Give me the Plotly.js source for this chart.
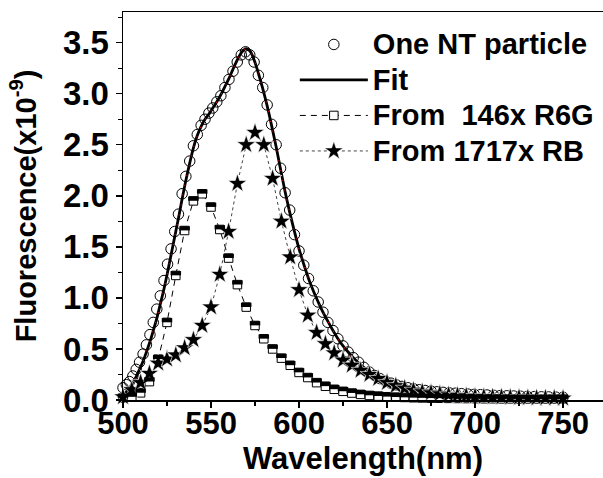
<!DOCTYPE html>
<html>
<head>
<meta charset="utf-8">
<script src="https://cdn.plot.ly/plotly-3.0.1.min.js"></script>
<style>html,body{margin:0;padding:0;background:#fff;}#chart{width:603px;height:478px;}</style>
</head>
<body>
<div id="chart"></div>
<script>
// One NT particle (open circles) and the fit share the same wavelength grid
const ntX = [500.0, 501.9, 503.7, 505.6, 507.5, 509.4, 511.4, 513.3, 515.3, 517.2, 519.2, 521.2, 523.3, 525.3, 527.3, 529.4, 531.5, 533.6, 535.7, 537.9,
  540.0, 542.2, 544.4, 546.6, 548.8, 551.0, 553.3, 555.6, 557.9, 560.2, 562.5, 564.9, 567.2, 569.6, 572.0, 574.5, 576.9, 579.4, 581.9, 584.4,
  587.0, 589.5, 592.1, 594.7, 597.4, 600.0, 602.7, 605.4, 608.1, 610.9, 613.6, 616.4, 619.3, 622.1, 625.0, 627.9, 630.8, 633.8, 636.8, 639.8,
  642.9, 645.9, 649.0, 652.2, 655.3, 658.5, 661.8, 665.0, 668.3, 671.6, 675.0, 678.4, 681.8, 685.3, 688.8, 692.3, 695.9, 699.5, 703.1, 706.8,
  710.5, 714.3, 718.1, 721.9, 725.8, 729.7, 733.7, 737.7, 741.8, 745.9, 750.0];
const ntY = [0.12, 0.15, 0.18, 0.235, 0.30, 0.37, 0.45, 0.54, 0.64, 0.76, 0.89, 1.02, 1.17, 1.33, 1.48, 1.65, 1.82, 2.02, 2.19, 2.34,
  2.49, 2.60, 2.69, 2.75, 2.81, 2.86, 2.92, 2.98, 3.06, 3.14, 3.22, 3.31, 3.38, 3.41, 3.38, 3.31, 3.18, 3.06, 2.89, 2.70,
  2.50, 2.27, 2.03, 1.86, 1.62, 1.46, 1.32, 1.19, 1.07, 0.96, 0.86, 0.76, 0.68, 0.60, 0.53, 0.47, 0.415, 0.37, 0.32, 0.275,
  0.24, 0.21, 0.185, 0.165, 0.148, 0.133, 0.12, 0.11, 0.10, 0.093, 0.087, 0.08, 0.075, 0.07, 0.066, 0.062, 0.058, 0.055, 0.052, 0.049,
  0.046, 0.043, 0.041, 0.039, 0.037, 0.035, 0.033, 0.031, 0.03, 0.028, 0.027];
const fitY = [0.05, 0.08, 0.12, 0.17, 0.23, 0.30, 0.38, 0.47, 0.57, 0.68, 0.80, 0.94, 1.09, 1.25, 1.42, 1.60, 1.78, 1.97, 2.15, 2.32,
  2.47, 2.59, 2.68, 2.75, 2.80, 2.86, 2.92, 2.99, 3.07, 3.15, 3.24, 3.33, 3.40, 3.44, 3.42, 3.33, 3.20, 3.05, 2.88, 2.69,
  2.48, 2.26, 2.04, 1.84, 1.65, 1.48, 1.33, 1.19, 1.07, 0.96, 0.86, 0.77, 0.68, 0.60, 0.53, 0.47, 0.415, 0.365, 0.32, 0.28,
  0.245, 0.215, 0.19, 0.168, 0.149, 0.133, 0.12, 0.108, 0.098, 0.09, 0.083, 0.077, 0.072, 0.067, 0.063, 0.059, 0.056, 0.053, 0.05, 0.047,
  0.045, 0.043, 0.041, 0.039, 0.037, 0.035, 0.033, 0.031, 0.03, 0.028, 0.027];

// From 146x R6G (half-filled squares) and From 1717x RB (stars), 5 nm grid
const dyeX = [500, 505, 510, 515, 520, 525, 530, 535, 540, 545, 550, 555, 560, 565, 570, 575, 580, 585, 590, 595,
  600, 605, 610, 615, 620, 625, 630, 635, 640, 645, 650, 655, 660, 665, 670, 675, 680, 685, 690, 695,
  700, 705, 710, 715, 720, 725, 730, 735, 740, 745, 750];
const r6gY = [0.02, 0.03, 0.07, 0.18, 0.40, 0.76, 1.22, 1.66, 1.95, 2.02, 1.89, 1.67, 1.39, 1.13, 0.91, 0.73, 0.60, 0.50, 0.41, 0.34,
  0.27, 0.22, 0.17, 0.135, 0.105, 0.085, 0.068, 0.055, 0.045, 0.038, 0.032, 0.028, 0.025, 0.022, 0.02, 0.018, 0.017, 0.016, 0.015, 0.014,
  0.013, 0.012, 0.012, 0.011, 0.011, 0.01, 0.01, 0.01, 0.01, 0.01, 0.01];
const rbY = [0.03, 0.10, 0.17, 0.26, 0.36, 0.40, 0.44, 0.51, 0.59, 0.73, 0.91, 1.23, 1.65, 2.12, 2.50, 2.62, 2.50, 2.17, 1.75, 1.40,
  1.08, 0.83, 0.66, 0.55, 0.46, 0.39, 0.34, 0.29, 0.25, 0.21, 0.17, 0.14, 0.115, 0.095, 0.08, 0.07, 0.06, 0.05, 0.045, 0.04,
  0.035, 0.032, 0.03, 0.028, 0.026, 0.024, 0.022, 0.02, 0.02, 0.018, 0.017];

const names = ['One NT particle', 'Fit', 'From  146x R6G', 'From 1717x RB'];
const xTicks = [500, 550, 600, 650, 700, 750];
const yTicks = [0.0, 0.5, 1.0, 1.5, 2.0, 2.5, 3.0, 3.5];
const yTickText = ['0.0', '0.5', '1.0', '1.5', '2.0', '2.5', '3.0', '3.5'];

const Y_RANGE = [0, 3.80];
const PLOT_H = 478 - 12 - 78;
const halfShift = 2.2 * (Y_RANGE[1] - Y_RANGE[0]) / PLOT_H; // ~2px upward, for the black top half of the squares

const F = 'Liberation Sans, Arial, sans-serif';
const big = s => '<span style="font-size:29px">' + s.replace(/ /g, '&nbsp;') + '</span>';

const traces = [
  {x: ntX, y: ntY, name: big(names[0]), mode: 'markers', type: 'scatter', legendgroup: 'a', cliponaxis: false,
   marker: {symbol: 'circle-open', size: 10.5, color: '#000', line: {width: 1, color: '#000'}}},
  {x: ntX, y: fitY, name: big(names[1]), mode: 'lines', type: 'scatter', legendgroup: 'b',
   line: {color: '#000', width: 2.8, shape: 'spline'}},
  {x: ntX, y: fitY, name: names[1], mode: 'lines', type: 'scatter', legendgroup: 'b', showlegend: false,
   line: {color: '#e00000', width: 1.2, dash: '1px,9px', shape: 'spline'}},
  {x: dyeX, y: r6gY, name: big(names[2]), mode: 'lines+markers', type: 'scatter', legendgroup: 'c', cliponaxis: false,
   line: {color: '#000', width: 1, dash: '6px,5px'},
   marker: {symbol: 'square', size: 8.5, color: '#fff', line: {width: 1, color: '#000'}}},
  {x: dyeX, y: r6gY, name: names[2], mode: 'markers', type: 'scatter', legendgroup: 'c', showlegend: false, yaxis: 'y2', cliponaxis: false,
   marker: {symbol: 'line-ew', size: 7.5, color: '#000', line: {width: 4.2, color: '#000'}}},
  {x: dyeX, y: rbY, name: big(names[3]), mode: 'lines+markers', type: 'scatter', legendgroup: 'd', cliponaxis: false,
   line: {color: '#444', width: 1, dash: 'dot'},
   marker: {symbol: 'star', size: 14, color: '#000', line: {width: 0.6, color: '#fff'}}}
];

const layout = {
  width: 603, height: 478,
  margin: {l: 123, r: 0, t: 12, b: 78, pad: 0},
  paper_bgcolor: '#fff', plot_bgcolor: '#fff',
  font: {family: F, color: '#000'},
  showlegend: true,
  legend: {x: 0.358, y: 0.975, xanchor: 'left', yanchor: 'top', bgcolor: 'rgba(0,0,0,0)',
    font: {family: F, size: 25, weight: 'bold', color: '#000'}, itemwidth: 68,
    traceorder: 'grouped', tracegroupgap: 0, itemsizing: 'trace'},
  xaxis: {range: [500, 772.7], tickvals: xTicks, ticktext: xTicks.map(String),
    ticks: 'outside', ticklen: 6, tickwidth: 1.5, tickcolor: '#000', ticklabelstandoff: -11,
    minor: {tickvals: [525, 575, 625, 675, 725], ticks: 'outside', ticklen: 4, tickwidth: 1.2, tickcolor: '#000'},
    showline: true, linewidth: 1.5, linecolor: '#000', mirror: true,
    showgrid: false, zeroline: false,
    tickfont: {family: F, size: 31, weight: 'bold'},
    title: {text: 'Wavelength(nm)', font: {family: F, size: 31, weight: 'bold'}, standoff: 4}},
  yaxis: {range: Y_RANGE, tickvals: yTicks, ticktext: yTickText,
    ticks: 'outside', ticklen: 6, tickwidth: 1.5, tickcolor: '#000',
    minor: {tickvals: [0.25, 0.75, 1.25, 1.75, 2.25, 2.75, 3.25, 3.75], ticks: 'outside', ticklen: 4, tickwidth: 1.2, tickcolor: '#000'},
    showline: true, linewidth: 1.5, linecolor: '#000', mirror: false,
    showgrid: false, zeroline: false,
    tickfont: {family: F, size: 33, weight: 'bold'},
    title: {text: 'Fluorescence(x10<sup>-9</sup>)', font: {family: F, size: 29, weight: 'bold'}, standoff: 18}},
  yaxis2: {range: [Y_RANGE[0] - halfShift, Y_RANGE[1] - halfShift], overlaying: 'y', visible: false, fixedrange: true}
};

Plotly.newPlot('chart', traces, layout, {staticPlot: true, displayModeBar: false});
</script>
</body>
</html>
